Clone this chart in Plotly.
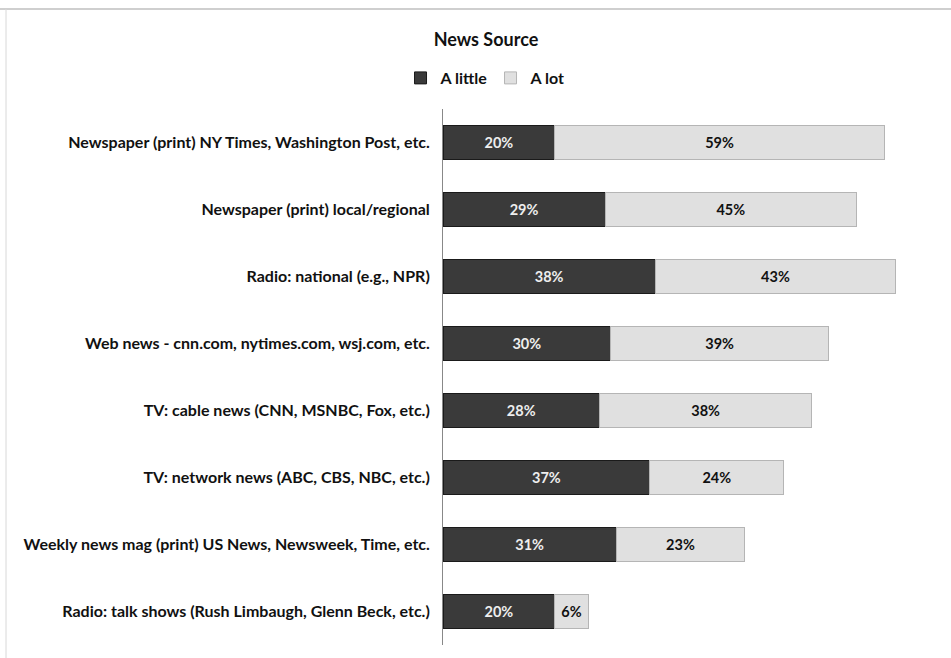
import plotly.graph_objects as go

categories = [
    "Newspaper (print) NY Times, Washington Post, etc.",
    "Newspaper (print) local/regional",
    "Radio: national (e.g., NPR)",
    "Web news - cnn.com, nytimes.com, wsj.com, etc.",
    "TV: cable news (CNN, MSNBC, Fox, etc.)",
    "TV: network news (ABC, CBS, NBC, etc.)",
    "Weekly news mag (print) US News, Newsweek, Time, etc.",
    "Radio: talk shows (Rush Limbaugh, Glenn Beck, etc.)",
]
a_little = [0.20, 0.29, 0.38, 0.30, 0.28, 0.37, 0.31, 0.20]
a_lot = [0.59, 0.45, 0.43, 0.39, 0.38, 0.24, 0.23, 0.06]

FONT = "Lato"

fig = go.Figure()
fig.add_trace(go.Bar(
    y=categories, x=a_little, name="A little", orientation="h",
    marker=dict(color="#3a3a3a", line=dict(color="#1a1a1a", width=1)),
    text=[f"{v:.0%}" for v in a_little], textposition="inside",
    insidetextanchor="middle",
    textfont=dict(color="#eeeeee", family=FONT, size=14.5, weight="bold"),
))
fig.add_trace(go.Bar(
    y=categories, x=a_lot, name="A lot", orientation="h",
    marker=dict(color="#e0e0e0", line=dict(color="#b5b5b5", width=1)),
    text=[f"{v:.0%}" for v in a_lot], textposition="inside",
    insidetextanchor="middle",
    textfont=dict(color="#111111", family=FONT, size=14.5, weight="bold"),
))

fig.update_layout(
    width=951, height=658,
    barmode="stack", bargap=0.5,
    paper_bgcolor="white", plot_bgcolor="white",
    margin=dict(l=443, r=33, t=109, b=13),
    font=dict(family=FONT, size=15, color="#111111"),
    title=dict(text="<b>News Source</b>", x=0.511, xref="container", xanchor="center",
               y=1 - 40 / 658, yref="container", yanchor="middle",
               font=dict(size=18, family=FONT, color="#111111")),
    legend=dict(orientation="h", xref="container", yref="container",
                x=0.5158, xanchor="center", y=1 - 78 / 658, yanchor="middle",
                font=dict(size=16, family=FONT, weight="bold"),
                itemwidth=30, entrywidth=45, entrywidthmode="pixels",
                traceorder="normal"),
    xaxis=dict(range=[0, 0.85], visible=False, fixedrange=True),
    yaxis=dict(autorange="reversed", showline=True, linecolor="#888888", linewidth=1,
               ticks="", tickfont=dict(size=16, family=FONT, weight="bold"),
               ticklabelstandoff=9, showgrid=False, fixedrange=True),
    showlegend=True,
    uniformtext=dict(mode="show", minsize=10),
    shapes=[
        dict(type="line", xref="paper", yref="paper", x0=-443/475, x1=(951 - 443)/475,
             y0=1 + 100/536, y1=1 + 100/536, line=dict(color="#cfcfcf", width=2)),
        dict(type="line", xref="paper", yref="paper", x0=-437/475, x1=-437/475,
             y0=1 + 100/536, y1=-13/536, line=dict(color="#d8d8d8", width=1)),
    ],
)

fig.write_html("out.html", config={"displayModeBar": False},
               post_script="document.body.style.margin='0';")
